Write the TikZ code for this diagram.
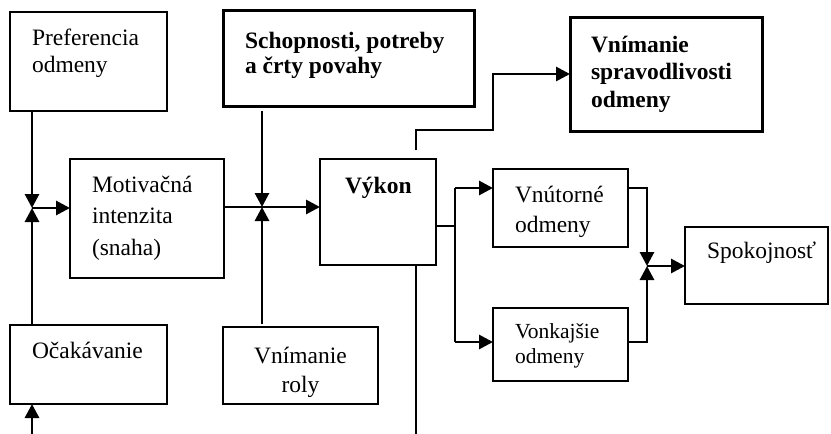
\documentclass[tikz,border=0pt]{standalone}
\usepackage{fontspec}
\setmainfont{Liberation Serif}
\usetikzlibrary{arrows.meta,calc}
\newcommand\Lft[1]{\vtop{\halign{##\hfil\cr#1\crcr}}}
\newcommand\Ctr[1]{\vtop{\halign{\hfil##\hfil\cr#1\crcr}}}
\tikzset{
  box/.style={draw, line width=2.2pt, inner sep=0pt, outer sep=0pt, anchor=north west, fill=white},
  tbox/.style={box, line width=3pt},
  txt/.style={inner sep=0pt, outer sep=0pt, anchor=base west},
  conn/.style={line width=2.9pt, line join=miter},
  tip/.style={-{Triangle[length=14pt,width=14pt]}}
}
\begin{document}
\begin{tikzpicture}[x=1pt,y=-1pt]
\useasboundingbox (0,0) rectangle (831,434);
% boxes
\node[box, minimum width=157pt, minimum height=99pt] (pref) at (10,12) {};
\node[tbox, minimum width=251pt, minimum height=96pt] (schop) at (223,10) {};
\node[tbox, minimum width=192pt, minimum height=114pt] (sprav) at (570,17) {};
\node[box, minimum width=154pt, minimum height=119pt] (motiv) at (70,159) {};
\node[box, minimum width=116pt, minimum height=106pt] (vykon) at (320,159) {};
\node[box, minimum width=135pt, minimum height=78pt] (vnut) at (493,169) {};
\node[box, minimum width=135pt, minimum height=73pt] (vonk) at (493,308) {};
\node[box, minimum width=143pt, minimum height=77pt] (spok) at (685,227) {};
\node[box, minimum width=157pt, minimum height=79pt] (ocak) at (10,325) {};
\node[box, minimum width=155pt, minimum height=77pt] (roly) at (223,327) {};
% texts
\node[txt, font=\fontsize{23.5}{27}\selectfont] (preft) at (32,45) {\Lft{Preferencia\cr odmeny}};
\node[txt, font=\fontsize{23.5}{25.5}\selectfont\bfseries] (schopt) at (245,48) {\Lft{Schopnosti, potreby\cr a črty povahy}};
\node[txt, font=\fontsize{23.5}{27.5}\selectfont\bfseries] (spravt) at (591,52) {\Lft{Vnímanie\cr spravodlivosti\cr odmeny}};
\node[txt, font=\fontsize{23.5}{31.5}\selectfont] (motivt) at (92,192) {\Lft{Motivačná\cr intenzita\cr (snaha)}};
\node[txt, font=\fontsize{23.5}{28}\selectfont\bfseries] (vykont) at (345,193) {Výkon};
\node[txt, font=\fontsize{23.5}{30}\selectfont] (vnutt) at (515,202) {\Lft{Vnútorné\cr odmeny}};
\node[txt, font=\fontsize{21.5}{25}\selectfont] (vonkt) at (515,338) {\Lft{Vonkajšie\cr odmeny}};
\node[txt, font=\fontsize{23.5}{28}\selectfont] (spokt) at (707,258) {Spokojnosť};
\node[txt, font=\fontsize{23.5}{28}\selectfont] (ocakt) at (32,358) {Očakávanie};
\node[txt, anchor=base, font=\fontsize{23.5}{29}\selectfont] (rolyt) at (300.5,363) {\Ctr{Vnímanie\cr roly}};
% junctions and free ends
\coordinate (j1) at (32,208);
\coordinate (j2) at (262,207);
\coordinate (j3) at (647,266);
\coordinate (b1) at (32,434);
\coordinate (vt) at (416,150);
\coordinate (bend) at (493,130);
\coordinate (vb) at (416,434);
\coordinate (s0) at (455,226);
\coordinate (s1) at (455,188);
\coordinate (s2) at (455,342);
% connectors left
\draw[conn,tip] (j1 |- pref.south) -- (j1);
\draw[conn,tip] (j1 |- ocak.north) -- (j1);
\draw[conn,tip] (j1) -- (j1 -| motiv.west);
\draw[conn,tip] (b1) -- (b1 |- ocak.south);
% middle
\draw[conn,tip] (motiv.east |- j2) -- (vykon.west |- j2);
\draw[conn,tip] ($(j2 |- schop.south)+(0,5)$) -- (j2);
\draw[conn,tip] ($(j2 |- roly.north)+(0,-3)$) -- (j2);
% Vykon outputs
\draw[conn,tip] (vt) |- (bend) |- (sprav.west);
\draw[conn] (vt |- vykon.south) -- (vb);
\draw[conn] (vykon.east |- s0) -- (s0);
\draw[conn] (s1) -- (s2);
\draw[conn,tip] (s1) -- (vnut.west |- s1);
\draw[conn,tip] (s2) -- (vonk.west |- s2);
% rewards to satisfaction
\draw[conn,tip] (vnut.east |- s1) -| (j3);
\draw[conn,tip] (vonk.east |- s2) -| (j3);
\draw[conn,tip] (j3) -- (spok.west |- j3);
\end{tikzpicture}
\end{document}
